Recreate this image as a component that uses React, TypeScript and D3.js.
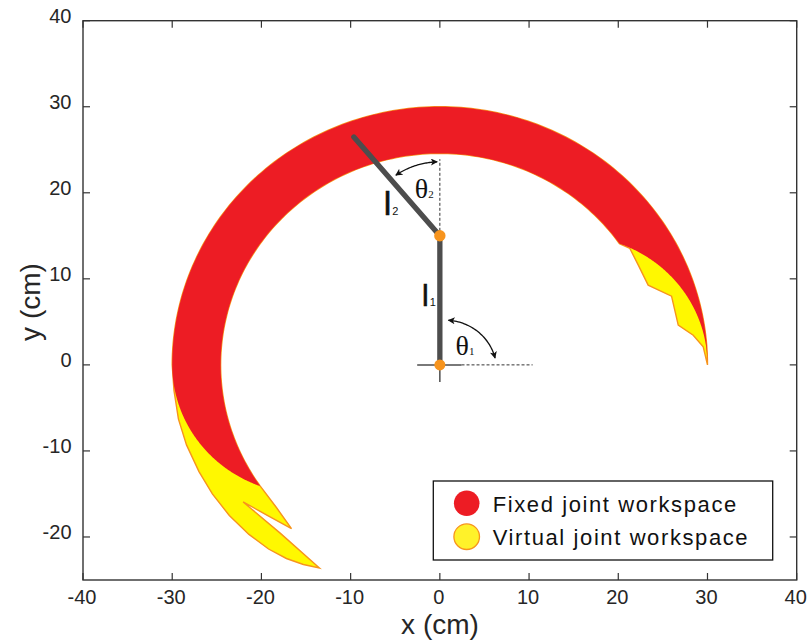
import React from 'react';
import * as d3 from 'd3';

const W = 809;
const H = 644;

// Two-link arm: link lengths (cm), joint limits and drawn pose (deg)
const LINK_LENGTHS = [15, 15];
const THETA1_LIMITS = [0, 180];
const THETA2_LIMITS = [0, 70];
const POSE = [90, 40];

// Extra reach gained with the virtual joint, traced outline (cm)
const VIRTUAL_LEFT_OUTER: [number, number][] = [
  [-29.8, -3], [-29.3, -6.3], [-28.4, -9.3], [-27.0, -12.4], [-25.5, -15.0],
  [-23.6, -17.5], [-21.4, -19.7], [-19.2, -21.4], [-17.2, -22.5], [-15.3, -23.2], [-13.5, -23.6],
];
const VIRTUAL_LEFT_LOBES: [number, number][] = [
  [-17.9, -19.55], [-22.05, -15.93], [-19.34, -17.48], [-16.63, -19.02], [-18.3, -16.6],
];
const VIRTUAL_RIGHT: [number, number][] = [
  [21.3, 13.53], [22.3, 11.48], [23.35, 9.27], [25.97, 7.99], [26.72, 4.62],
  [28.4, 3.45], [29.52, 2.09],
];

const X_TICKS = [-40, -30, -20, -10, 0, 10, 20, 30, 40];
const Y_TICKS = [-20, -10, 0, 10, 20, 30, 40];

const LEGEND = [
  { label: 'Fixed joint workspace', fill: '#ED1C24', stroke: 'none' },
  { label: 'Virtual joint workspace', fill: '#FFF22A', stroke: '#F7941D' },
];

// Angle annotations: arc centre (cm), radius (cm), start/end angle (deg), label anchor (cm)
const ANGLE_MARKS = [
  { sub: '1', center: [0.56, -0.6], r: 5.8, from: 86, to: 14, text: [1.75, 1.1] },
  { sub: '2', center: [0, 15], r: 8.6, from: 125, to: 92, text: [-2.8, 19.35] },
];
const LINK_LABELS = [
  { sub: '1', at: [-2.0, 6.9], size: 30 },
  { sub: '2', at: [-6.3, 17.4], size: 34 },
];
const DASHED_GUIDES: [number, number][][] = [
  [[0, 15], [0, 23.9]],
  [[2.43, 0], [10.4, 0]],
];
const BASE_CROSS: [number, number][][] = [
  [[-2.54, 0], [2.43, 0]],
  [[0, 0], [0, -2]],
];

const RED = '#ED1C24';
const YELLOW = '#FFF800';
const ORANGE = '#F7941D';
const LINK = '#4D4D4D';
const AXIS = '#333333';

const rad = (d: number) => (d * Math.PI) / 180;

function fk(t1: number, t2: number): [number, number] {
  const [a, b] = LINK_LENGTHS;
  return [
    a * Math.cos(rad(t1)) + b * Math.cos(rad(t1 + t2)),
    a * Math.sin(rad(t1)) + b * Math.sin(rad(t1 + t2)),
  ];
}

const sweep = (from: number, to: number, n = 160) =>
  d3.range(n + 1).map((i) => from + ((to - from) * i) / n);

export default function App() {
  const x = d3.scaleLinear().domain([-40, 40]).range([83, 796.7]);
  const y = d3.scaleLinear().domain([-25, 40]).range([580, 20.7]);
  const line = d3
    .line<[number, number]>()
    .x((d) => x(d[0]))
    .y((d) => y(d[1]));

  const [t1a, t1b] = THETA1_LIMITS;
  const [t2a, t2b] = THETA2_LIMITS;
  const outer = sweep(t1a, t1b).map((t) => fk(t, t2a));
  const leftEnd = sweep(t2a, t2b).map((t) => fk(t1b, t));
  const inner = sweep(t1b, t1a).map((t) => fk(t, t2b));
  const rightEnd = sweep(t2b, t2a).map((t) => fk(t1a, t));

  const fixedRegion = [...outer, ...leftEnd, ...inner, ...rightEnd];
  const virtualRegion = [
    ...outer,
    ...VIRTUAL_LEFT_OUTER,
    ...VIRTUAL_LEFT_LOBES,
    ...inner,
    ...VIRTUAL_RIGHT,
  ];

  const base: [number, number] = [0, 0];
  const elbow: [number, number] = [
    LINK_LENGTHS[0] * Math.cos(rad(POSE[0])),
    LINK_LENGTHS[0] * Math.sin(rad(POSE[0])),
  ];
  const tip = fk(POSE[0], POSE[1]);

  const frameL = x(-40), frameR = x(40), frameT = y(40), frameB = y(-25);
  const tickLen = 7;

  const legendX = 433.3, legendY = 481, legendW = 339.4, legendH = 79;

  return (
    <svg
      width={W}
      height={H}
      viewBox={`0 0 ${W} ${H}`}
      style={{ position: 'absolute', left: 0, top: 0, background: '#fff' }}
      fontFamily="'Liberation Sans', Arial, Helvetica, sans-serif"
    >
      <defs>
        <marker
          id="arrowHead"
          viewBox="0 0 10 10"
          refX="9"
          refY="5"
          markerWidth="8"
          markerHeight="7"
          markerUnits="userSpaceOnUse"
          orient="auto-start-reverse"
        >
          <path d="M0,0 L10,5 L0,10 L2.5,5 z" fill="#111" />
        </marker>
      </defs>
      <rect x={0} y={0} width={W} height={H} fill="#fff" />

      {/* workspaces */}
      <path
        d={line(virtualRegion) + 'Z'}
        fill={YELLOW}
        stroke={ORANGE}
        strokeWidth={1.4}
        strokeLinejoin="miter"
      />
      <path d={line(fixedRegion) + 'Z'} fill={RED} stroke="none" />

      {/* guides */}
      {DASHED_GUIDES.map((g, i) => (
        <path key={'g' + i} d={line(g) || ''} stroke={AXIS} strokeWidth={1} strokeDasharray="3,2" fill="none" />
      ))}
      {BASE_CROSS.map((g, i) => (
        <path key={'c' + i} d={line(g) || ''} stroke={LINK} strokeWidth={1.5} fill="none" />
      ))}

      {/* arm links */}
      <path d={line([base, elbow]) || ''} stroke={LINK} strokeWidth={5.3} fill="none" />
      <path d={line([elbow, tip]) || ''} stroke={LINK} strokeWidth={5.3} strokeLinecap="round" fill="none" />
      <circle cx={x(base[0])} cy={y(base[1])} r={5.5} fill={ORANGE} />
      <circle cx={x(elbow[0])} cy={y(elbow[1])} r={5.7} fill={ORANGE} />

      {/* joint angle arcs */}
      {ANGLE_MARKS.map((m, i) => {
        const pts = sweep(m.from, m.to, 40).map(
          (a) => [m.center[0] + m.r * Math.cos(rad(a)), m.center[1] + m.r * Math.sin(rad(a))] as [number, number]
        );
        return (
          <g key={'a' + i}>
            <path
              d={line(pts) || ''}
              fill="none"
              stroke="#111"
              strokeWidth={1.3}
              markerStart="url(#arrowHead)"
              markerEnd="url(#arrowHead)"
            />
            <text
              x={x(m.text[0])}
              y={y(m.text[1])}
              fontFamily="'Liberation Serif', 'Times New Roman', serif"
              fontSize={28}
              fill="#111"
            >
              θ
              <tspan fontSize={11} dx={0}>
                {m.sub}
              </tspan>
            </text>
          </g>
        );
      })}

      {/* link labels */}
      {LINK_LABELS.map((l, i) => (
        <text
          key={'l' + i}
          x={x(l.at[0])}
          y={y(l.at[1])}
          fontSize={l.size}
          fill="#111"
          stroke="#111"
          strokeWidth={0.6}
        >
          l
          <tspan fontSize={11} dx={1} strokeWidth={0}>
            {l.sub}
          </tspan>
        </text>
      ))}

      {/* frame and ticks */}
      <rect
        x={frameL}
        y={frameT}
        width={frameR - frameL}
        height={frameB - frameT}
        fill="none"
        stroke={AXIS}
        strokeWidth={1.4}
      />
      {X_TICKS.map((t) => (
        <g key={'xt' + t}>
          <line x1={x(t)} x2={x(t)} y1={frameB} y2={frameB - tickLen} stroke={AXIS} strokeWidth={1.2} />
          <line x1={x(t)} x2={x(t)} y1={frameT} y2={frameT + tickLen} stroke={AXIS} strokeWidth={1.2} />
          <text x={x(t) - 1} y={604} textAnchor="middle" fontSize={20} fill="#262626">
            {t}
          </text>
        </g>
      ))}
      {Y_TICKS.map((t) => (
        <g key={'yt' + t}>
          <line x1={frameL} x2={frameL + tickLen} y1={y(t)} y2={y(t)} stroke={AXIS} strokeWidth={1.2} />
          <line x1={frameR} x2={frameR - tickLen} y1={y(t)} y2={y(t)} stroke={AXIS} strokeWidth={1.2} />
          <text x={71.5} y={y(t) + 1.8} textAnchor="end" fontSize={20} fill="#262626">
            {t}
          </text>
        </g>
      ))}

      {/* axis titles */}
      <text x={440} y={634} textAnchor="middle" fontSize={28} fill="#262626">
        x (cm)
      </text>
      <text
        transform={`translate(40,302) rotate(-90)`}
        textAnchor="middle"
        fontSize={28}
        fill="#262626"
      >
        y (cm)
      </text>

      {/* legend */}
      <rect x={legendX} y={legendY} width={legendW} height={legendH} fill="#fff" stroke="#111" strokeWidth={1.3} />
      {LEGEND.map((e, i) => (
        <g key={'lg' + i}>
          <circle
            cx={legendX + 33.4}
            cy={legendY + 22.3 + i * 33.4}
            r={12.8}
            fill={e.fill}
            stroke={e.stroke}
            strokeWidth={1.3}
          />
          <text
            x={legendX + 59.4}
            y={legendY + 30.5 + i * 33}
            fontSize={22}
            letterSpacing={1.6}
            fill="#111"
          >
            {e.label}
          </text>
        </g>
      ))}
    </svg>
  );
}
